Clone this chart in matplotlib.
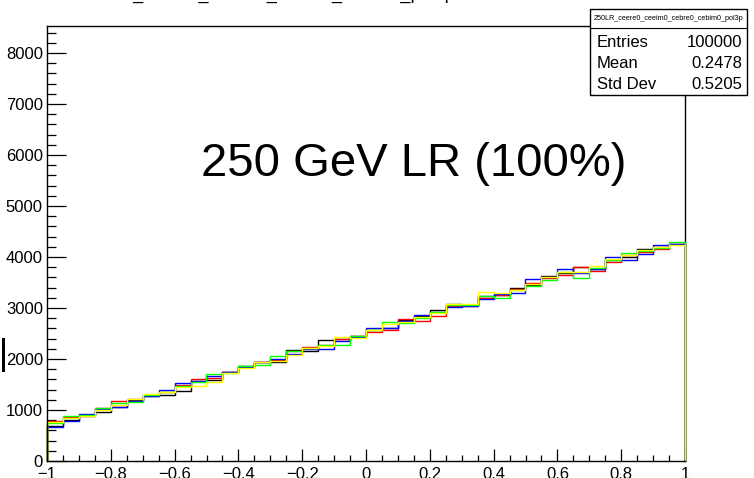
import numpy as np
import matplotlib
matplotlib.use("Agg")
import matplotlib.pyplot as plt
from matplotlib.patches import Rectangle
from matplotlib.lines import Line2D

plt.rcParams['font.family'] = ['Liberation Sans', 'DejaVu Sans']

# ---- data ----
edges = np.linspace(-1, 1, 41)
black = [692, 800, 885, 967, 1059, 1196, 1275, 1294, 1380, 1575,
         1588, 1740, 1863, 1935, 1935, 2176, 2157, 2373, 2392, 2457,
         2560, 2614, 2770, 2840, 2961, 3072, 3060, 3230, 3260, 3399,
         3460, 3627, 3680, 3810, 3770, 3950, 3994, 4157, 4190, 4255]
red = [784, 862, 900, 1033, 1176, 1216, 1290, 1347, 1500, 1608,
       1620, 1751, 1850, 1935, 1980, 2165, 2241, 2275, 2392, 2457,
       2536, 2569, 2784, 2751, 2843, 3030, 3046, 3190, 3250, 3366,
       3484, 3590, 3647, 3800, 3732, 3908, 4039, 4092, 4150, 4250]
blue = [660, 790, 915, 1013, 1059, 1180, 1280, 1386, 1535, 1575,
        1667, 1751, 1845, 1935, 2000, 2098, 2190, 2196, 2359, 2440,
        2601, 2614, 2750, 2863, 2928, 3013, 3046, 3176, 3268, 3301,
        3569, 3600, 3765, 3693, 3765, 4006, 3941, 4052, 4235, 4255]
green = [739, 888, 900, 1046, 1130, 1163, 1295, 1360, 1476, 1555,
         1706, 1725, 1863, 1882, 2065, 2165, 2209, 2275, 2275, 2457,
         2560, 2725, 2700, 2797, 2928, 3050, 3060, 3235, 3190, 3350,
         3438, 3550, 3700, 3582, 3791, 3950, 4085, 4110, 4170, 4300]
yellow = [758, 837, 882, 994, 1098, 1222, 1314, 1347, 1445, 1470,
          1555, 1725, 1824, 1947, 1970, 2078, 2209, 2255, 2437, 2420,
          2570, 2686, 2732, 2830, 2895, 3072, 3085, 3320, 3301, 3360,
          3470, 3608, 3712, 3700, 3830, 3961, 4030, 4137, 4190, 4235]
series = [(black, 'black'), (red, '#ff0000'), (blue, '#0000ff'),
          (green, '#00ff00'), (yellow, '#ffff00')]

xticks = [-1, -0.8, -0.6, -0.4, -0.2, 0, 0.2, 0.4, 0.6, 0.8, 1]
xticklabels = ['\u22121', '\u22120.8', '\u22120.6', '\u22120.4', '\u22120.2',
               '0', '0.2', '0.4', '0.6', '0.8', '1']
yticks = [0, 1000, 2000, 3000, 4000, 5000, 6000, 7000, 8000]
yticklabels = [str(v) for v in yticks]

title = "250LR_ceere0_ceeim0_cebre0_cebim0_pol3p"
label = "250 GeV LR (100%)"
stats = [("Entries", "100000"), ("Mean", "0.2478"), ("Std Dev", "0.5205")]

# ---- figure ----
W, H = 754, 478
fig = plt.figure(figsize=(W / 100, H / 100), dpi=100)
fig.patch.set_facecolor('white')

def fx(px):
    return px / W

def fy(py):
    return 1 - py / H

ax_l, ax_r, ax_t, ax_b = 47, 685, 26, 461
ax = fig.add_axes([fx(ax_l), fy(ax_b), (ax_r - ax_l) / W, (ax_b - ax_t) / H])

for vals, c in series:
    ax.stairs(vals, edges, baseline=0, color=c, lw=1.0, zorder=3, clip_on=False)

ax.set_xlim(-1, 1)
ax.set_ylim(0, 8530)
ax.set_xticks(xticks)
ax.set_xticklabels(xticklabels)
ax.set_yticks(yticks)
ax.set_yticklabels(yticklabels)
ax.set_xticks(np.arange(-1, 1.001, 0.05), minor=True)
ax.set_yticks(np.arange(0, 8530, 200), minor=True)

ax.tick_params(axis='x', which='major', direction='in', length=9, width=0.9,
               labelsize=12, pad=4, colors='black')
ax.tick_params(axis='x', which='minor', direction='in', length=4.5, width=0.9)
ax.tick_params(axis='y', which='major', direction='in', length=13.7, width=0.9,
               labelsize=12, pad=3)
ax.tick_params(axis='y', which='minor', direction='in', length=6.8, width=0.9)
for s in ax.spines.values():
    s.set_linewidth(1.0)
    s.set_color('black')
ax.spines['left'].set_zorder(4)
ax.spines['bottom'].set_zorder(4)

# big label
fig.text(fx(414), fy(176), label, fontsize=34, ha='center', va='baseline')

# title, mostly cut off at top (only underscores/descenders visible)
fig.text(fx(80), fy(-1.5), title, fontsize=13, ha='left', va='baseline')

# stats box
bx0, bx1, by0, by1, bsep = 590, 747, 9, 95, 28
fig.patches.append(Rectangle((fx(bx0), fy(by1)), (bx1 - bx0) / W, (by1 - by0) / H,
                             transform=fig.transFigure, facecolor='white',
                             edgecolor='black', lw=1.0, zorder=5))
fig.lines.append(Line2D([fx(bx0), fx(bx1)], [fy(bsep), fy(bsep)],
                        transform=fig.transFigure, color='black', lw=0.8, zorder=6))
fig.text(fx((bx0 + bx1) / 2), fy(19), title, fontsize=5.2, ha='center', va='center',
         zorder=7)
for i, (k, v) in enumerate(stats):
    yb = 47 + 21 * i
    fig.text(fx(597), fy(yb), k, fontsize=12, ha='left', va='baseline', zorder=7)
    fig.text(fx(742), fy(yb), v, fontsize=12, ha='right', va='baseline', zorder=7)

# small black mark at left edge
fig.patches.append(Rectangle((fx(2), fy(372)), 3 / W, 34 / H, transform=fig.transFigure,
                             facecolor='black', edgecolor='none', zorder=5))

fig.savefig('out.png', dpi=100)
